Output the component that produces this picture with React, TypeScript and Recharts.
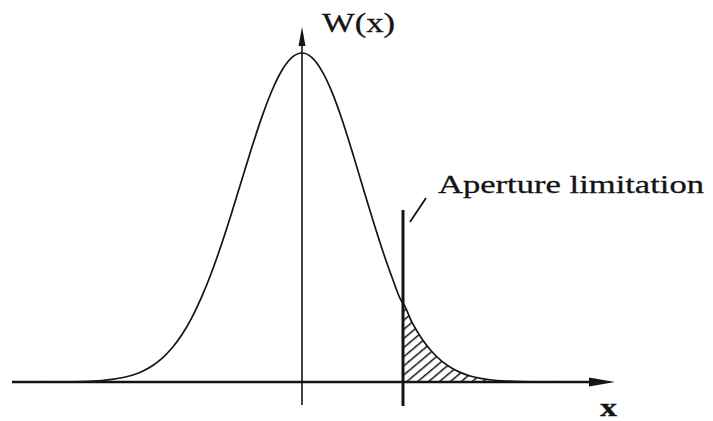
import React from "react";
import { ComposedChart, Line, Area, XAxis, YAxis, ReferenceLine, ReferenceDot } from "recharts";

// Sample positions along x (relative to the curve centre) and the read-off W(x) values
const xs = [-280, -260, -240, -220, -200, -190, -180, -170, -160, -150, -140, -130, -120, -110, -100, -90, -80, -70, -60, -50, -40, -30, -20, -10, 0, 10, 20, 30, 40, 50, 60, 70, 80, 90, 100, 101, 110, 120, 130, 140, 150, 160, 170, 180, 190, 200, 220, 240, 260, 290];
const wValues = [0, 0.0001, 0.0004, 0.0015, 0.0046, 0.0078, 0.0129, 0.0206, 0.0321, 0.0486, 0.0718, 0.1032, 0.1444, 0.1967, 0.2609, 0.3368, 0.4232, 0.5177, 0.6165, 0.7147, 0.8066, 0.8861, 0.9477, 0.9867, 1, 0.986, 0.945, 0.881, 0.798, 0.702, 0.601, 0.5005, 0.405, 0.3185, 0.2435, 0.24, 0.181, 0.1308, 0.0919, 0.0628, 0.0417, 0.0269, 0.0169, 0.0103, 0.0061, 0.0035, 0.0011, 0.0003, 0.0001, 0];
// Hatched tail beyond the aperture limit
const apertureX = 101;

const yLabel = "W(x)";
const xLabel = "x";
const apertureLabel = "Aperture limitation";

const data = xs.map((x, i) => ({ x, w: wValues[i] }));
const tailData = data.filter((d) => d.x >= apertureX).map((d) => ({ x: d.x, tail: d.w }));

const INK = "#141414";

const TextShape = (text: string, size: number, len: number, weight: string | number = "normal") => (p: any) => (
  <text
    x={p.cx}
    y={p.cy}
    fontFamily="'Liberation Serif', 'DejaVu Serif', serif"
    fontSize={size}
    fontWeight={weight}
    fill={INK}
    stroke={INK}
    strokeWidth={0.3}
    textLength={len}
    lengthAdjust="spacingAndGlyphs"
  >
    {text}
  </text>
);

const UpArrow = (p: any) => (
  <polygon points={`${p.cx},${p.cy} ${p.cx - 3.5},${p.cy + 19} ${p.cx + 3.5},${p.cy + 19}`} fill={INK} />
);
const RightArrow = (p: any) => (
  <polygon points={`${p.cx},${p.cy} ${p.cx - 26},${p.cy - 4.5} ${p.cx - 26},${p.cy + 4.5}`} fill={INK} />
);

export default function App() {
  return (
    <div style={{ position: "absolute", left: 0, top: 0, width: 713, height: 421, background: "#fff" }}>
      <ComposedChart width={713} height={421} data={data} margin={{ top: 0, right: 0, bottom: 0, left: 0 }}>
        <defs>
          <pattern id="hatch" width="7" height="7" patternUnits="userSpaceOnUse" patternTransform="rotate(50)">
            <line x1="0" y1="0" x2="0" y2="7" stroke={INK} strokeWidth="3" />
          </pattern>
        </defs>
        <XAxis dataKey="x" type="number" domain={[-302, 411]} hide allowDataOverflow />
        <YAxis type="number" domain={[-0.1185, 1.1611]} hide allowDataOverflow />
        <Area
          data={tailData}
          dataKey="tail"
          type="monotone"
          fill="url(#hatch)"
          fillOpacity={1}
          stroke="none"
          baseValue={0}
          dot={false}
          activeDot={false}
          isAnimationActive={false}
        />
        {/* x axis */}
        <ReferenceLine segment={[{ x: -290, y: 0 }, { x: 292, y: 0 }]} stroke={INK} strokeWidth={2.6} ifOverflow="visible" />
        <ReferenceDot x={313} y={0} r={0} shape={RightArrow} ifOverflow="visible" />
        {/* y axis */}
        <ReferenceLine segment={[{ x: 0, y: -0.07 }, { x: 0, y: 1.03 }]} stroke={INK} strokeWidth={1.6} ifOverflow="visible" />
        <ReferenceDot x={0} y={1.079} r={0} shape={UpArrow} ifOverflow="visible" />
        {/* aperture limit */}
        <ReferenceLine segment={[{ x: apertureX, y: -0.073 }, { x: apertureX, y: 0.523 }]} stroke={INK} strokeWidth={3} ifOverflow="visible" />
        <ReferenceLine segment={[{ x: 108, y: 0.486 }, { x: 124, y: 0.559 }]} stroke={INK} strokeWidth={1.8} ifOverflow="visible" />
        <Line dataKey="w" type="monotone" stroke={INK} strokeWidth={1.7} dot={false} activeDot={false} isAnimationActive={false} />
        <ReferenceDot x={20} y={1.064} r={0} shape={TextShape(yLabel, 27, 73)} ifOverflow="visible" />
        <ReferenceDot x={136} y={0.574} r={0} shape={TextShape(apertureLabel, 26, 266)} ifOverflow="visible" />
        <ReferenceDot x={298} y={-0.103} r={0} shape={TextShape(xLabel, 26, 17, "bold")} ifOverflow="visible" />
      </ComposedChart>
    </div>
  );
}
